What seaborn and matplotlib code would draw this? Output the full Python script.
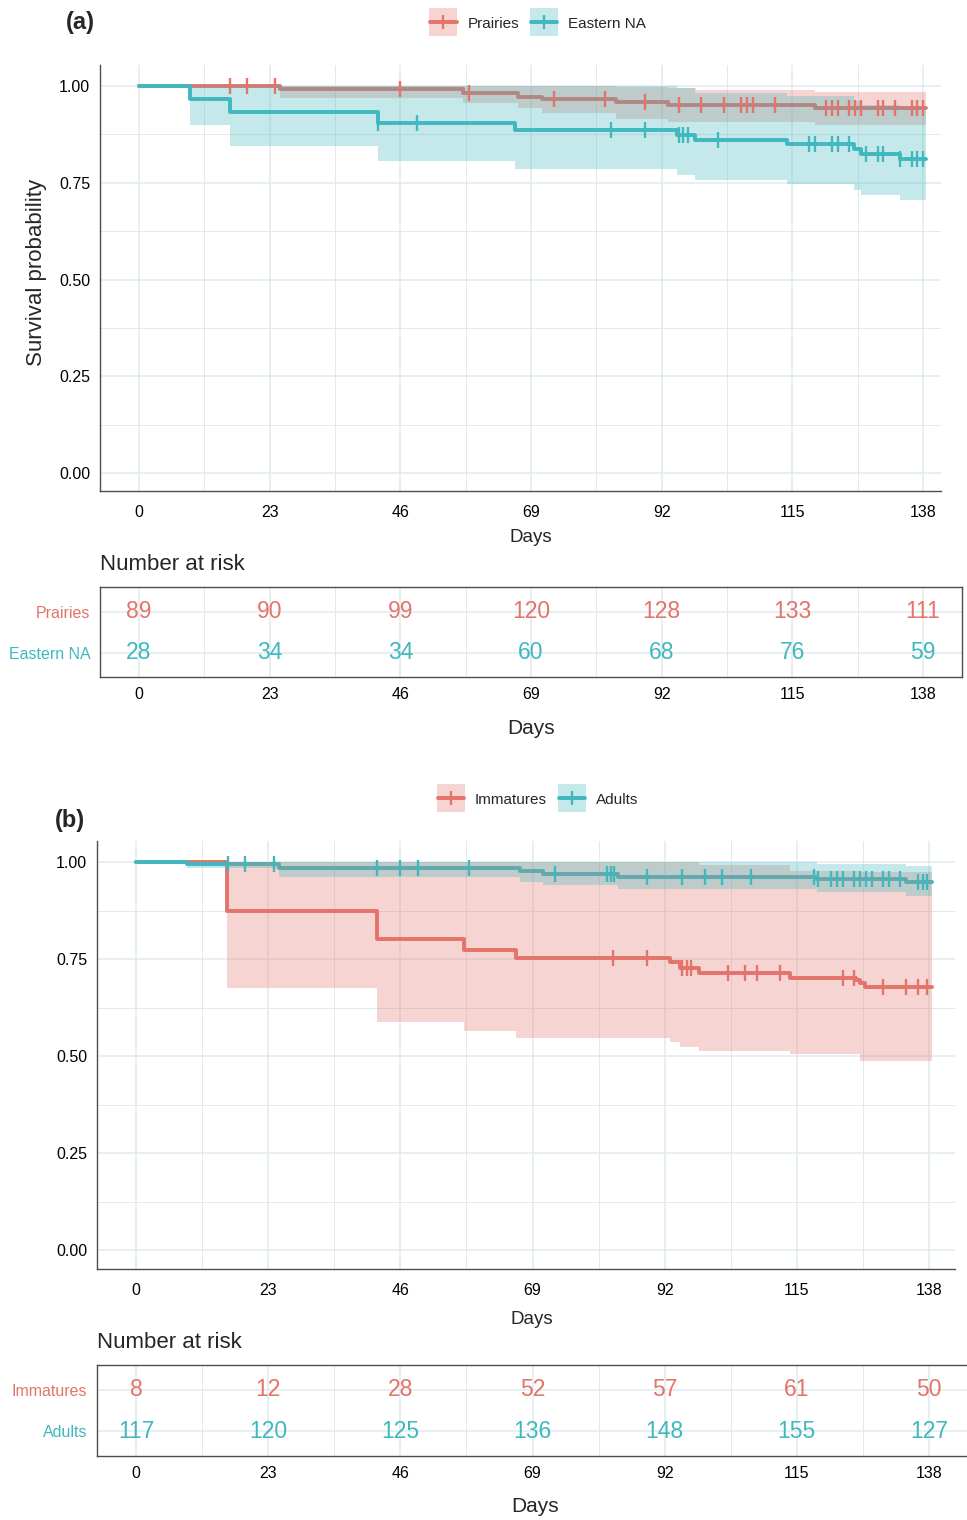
import matplotlib
import numpy as np

matplotlib.use("Agg")
import matplotlib.pyplot as plt
import seaborn as sns
from matplotlib.legend_handler import HandlerTuple
from matplotlib.lines import Line2D
from matplotlib.ticker import FixedLocator

DAY_TICKS = [0, 23, 46, 69, 92, 115, 138]
DAY_MINOR = [11.5, 34.5, 57.5, 80.5, 103.5, 126.5]
SURV_TICKS = [0.0, 0.25, 0.50, 0.75, 1.00]
SURV_MINOR = [0.125, 0.375, 0.625, 0.875]

# panel (a): region
PRAI_T = [0, 24.8, 57, 66.7, 71, 84, 93.2, 98, 119, 138.5]
PRAI_S = [1.0, 0.991, 0.981, 0.972, 0.967, 0.958, 0.951, 0.951, 0.944, 0.944]
PRAI_LO = [1.0, 0.968, 0.955, 0.942, 0.931, 0.915, 0.908, 0.908, 0.900, 0.900]
PRAI_HI = [1.0, 1.0, 1.0, 1.0, 1.0, 0.998, 0.995, 0.990, 0.984, 0.984]
PRAI_CENS = [16, 19, 24, 46, 58, 73, 82, 89, 95, 99, 103, 106, 107, 108, 112,
             121, 122, 123, 125, 126, 127, 130, 131, 133, 136, 137, 138]

EAST_T = [0, 9, 16, 42, 66.2, 94.7, 97.9, 114, 125.8, 127, 134, 138.5]
EAST_S = [1.0, 0.966, 0.934, 0.905, 0.886, 0.873, 0.860, 0.850, 0.836, 0.824, 0.811, 0.811]
EAST_LO = [1.0, 0.899, 0.845, 0.807, 0.785, 0.770, 0.757, 0.746, 0.732, 0.718, 0.705, 0.705]
EAST_HI = [1.0, 1.0, 1.0, 1.0, 1.0, 0.994, 0.981, 0.975, 0.960, 0.952, 0.945, 0.945]
EAST_CENS = [42, 49, 83, 89, 95, 95.8, 96.6, 102, 118, 119, 122, 123, 125, 128,
             130, 131, 134, 136, 137, 138]

PRAI_RISK = [89, 90, 99, 120, 128, 133, 111]
EAST_RISK = [28, 34, 34, 60, 68, 76, 59]

# panel (b): life stage
IMM_T = [0, 15.9, 42, 57, 66.1, 92.9, 94.7, 98, 113.8, 125.3, 126, 126.9, 138.5]
IMM_S = [1.0, 0.875, 0.801, 0.773, 0.753, 0.741, 0.728, 0.714, 0.702, 0.696, 0.687, 0.677, 0.677]
IMM_LO = [1.0, 0.674, 0.588, 0.565, 0.546, 0.535, 0.524, 0.513, 0.505, 0.505, 0.488, 0.488, 0.488]
IMM_HI = [1.0, 1.0, 1.0, 1.0, 1.0, 1.0, 1.0, 0.992, 0.976, 0.976, 0.975, 0.975, 0.975]
IMM_CENS = [83, 89, 95, 95.8, 96.6, 103, 106, 108, 112, 123, 125, 130, 134, 136, 137.6]

ADU_T = [0, 8.8, 24.8, 66.8, 70.9, 83.9, 118.5, 134, 138.5]
ADU_S = [1.0, 0.994, 0.985, 0.977, 0.968, 0.961, 0.955, 0.949, 0.949]
ADU_LO = [1.0, 0.984, 0.962, 0.949, 0.941, 0.930, 0.922, 0.913, 0.913]
ADU_HI = [1.0, 1.0, 1.0, 1.0, 1.0, 1.0, 0.995, 0.990, 0.990]
ADU_CENS = [16, 19, 24, 42, 46, 49, 58, 73, 82, 82.6, 83.2, 89, 95, 99, 102, 107,
            118, 118.7, 121, 122, 123, 125, 126, 127, 128, 130, 131, 133, 136, 137, 137.7]

IMM_RISK = [8, 12, 28, 52, 57, 61, 50]
ADU_RISK = [117, 120, 125, 136, 148, 155, 127]

RED = "#E4736A"
TEAL = "#3FB8BE"
GRID = "#E0EBEF"
AXC = "#4D4D4D"

sns.set_theme(style="white")
plt.rcParams["font.family"] = ["Liberation Sans", "DejaVu Sans"]

W, H = 967, 1520
fig = plt.figure(figsize=(W / 100, H / 100), dpi=100)


def px_axes(left, top, right, bottom):
    return fig.add_axes([left / W, 1 - bottom / H, (right - left) / W, (bottom - top) / H])


def day_lim(x0, x138, left, right):
    k = (x138 - x0) / 138
    return (left - x0) / k, (right - x0) / k


def base_style(ax):
    ax.set_xticks(DAY_TICKS)
    ax.xaxis.set_minor_locator(FixedLocator(DAY_MINOR))
    ax.grid(which="major", color=GRID, lw=1.1)
    ax.grid(which="minor", color=GRID, lw=0.7)
    ax.set_axisbelow(True)
    ax.tick_params(which="minor", length=0)
    ax.tick_params(which="major", length=3, width=0.9, color="#333333",
                   labelsize=11.5, labelcolor="black", pad=4)
    ax.set_xlabel("")
    ax.set_ylabel("")


def km_panel(ax, groups, xlim, ylim):
    for name, color, t, s, lo, hi, cens in groups:
        sns.lineplot(x=t, y=s, ax=ax, color=color, lw=2.8, drawstyle="steps-post",
                     estimator=None, sort=False, zorder=2)
    for name, color, t, s, lo, hi, cens in groups:
        ax.fill_between(t, lo, hi, step="post", color=color, alpha=0.3, lw=0, zorder=3)
    for name, color, t, s, lo, hi, cens in groups:
        idx = np.searchsorted(t, cens, side="right") - 1
        sns.scatterplot(x=cens, y=np.asarray(s)[idx], ax=ax, marker="|", s=130,
                        color=color, linewidth=1.7, zorder=4)
    base_style(ax)
    ax.set_yticks(SURV_TICKS)
    ax.set_yticklabels([f"{v:.2f}" for v in SURV_TICKS])
    ax.yaxis.set_minor_locator(FixedLocator(SURV_MINOR))
    ax.set_xlim(*xlim)
    ax.set_ylim(*ylim)
    ax.tick_params(axis="x", pad=7)
    for side in ["top", "right"]:
        ax.spines[side].set_visible(False)
    for side in ["left", "bottom"]:
        ax.spines[side].set_color(AXC)
        ax.spines[side].set_linewidth(1.0)


def risk_table(ax, rows, xlim):
    for i, (name, color, counts) in enumerate(rows):
        y = len(rows) - i
        for d, n in zip(DAY_TICKS, counts):
            ax.text(d, y, str(n), color=color, fontsize=16.5, ha="center", va="center")
    base_style(ax)
    ax.set_yticks([len(rows) - i for i in range(len(rows))])
    ax.set_yticklabels([r[0] for r in rows])
    for lbl, r in zip(ax.get_yticklabels(), rows):
        lbl.set_color(r[1])
    ax.set_xlim(*xlim)
    ax.set_ylim(0.41, 2.6)
    for side in ax.spines:
        ax.spines[side].set_color(AXC)
        ax.spines[side].set_linewidth(1.0)


def legend(rows, yc):
    handles = [(Line2D([], [], ls="none", marker="s", markersize=19.5, color=c,
                       alpha=0.3, mew=0),
                Line2D([], [], color=c, lw=2.8, marker="|", markersize=10, mew=1.7))
               for _, c in rows]
    fig.legend(handles, [r[0] for r in rows], loc="center",
               bbox_to_anchor=(538 / W, 1 - yc / H), ncol=2, frameon=False,
               fontsize=11, handlelength=1.75, handleheight=1.2,
               handletextpad=0.7, columnspacing=0.75, numpoints=1,
               handler_map={tuple: HandlerTuple(ndivide=1, pad=0)})


# ---- panel (a)
ax_a = px_axes(100, 65, 941, 491)
km_panel(ax_a,
         [("Prairies", RED, PRAI_T, PRAI_S, PRAI_LO, PRAI_HI, PRAI_CENS),
          ("Eastern NA", TEAL, EAST_T, EAST_S, EAST_LO, EAST_HI, EAST_CENS)],
         day_lim(139, 923, 100, 941), (-18 / 387, 1 + 21 / 387))
tab_a = px_axes(100, 587, 962, 677)
risk_table(tab_a, [("Prairies", RED, PRAI_RISK), ("Eastern NA", TEAL, EAST_RISK)],
           day_lim(139, 923, 100, 962))
legend([("Prairies", RED), ("Eastern NA", TEAL)], 23)
fig.text(80 / W, 1 - 22 / H, "(a)", fontsize=17, fontweight="bold", ha="center", va="center")
fig.text(37 / W, 1 - 272 / H, "Survival probability", fontsize=16, rotation=90,
         ha="center", va="center")
fig.text(531 / W, 1 - 538 / H, "Days", fontsize=13.5, ha="center", va="center")
fig.text(100 / W, 1 - 565 / H, "Number at risk", fontsize=16, ha="left", va="center")
fig.text(531 / W, 1 - 729 / H, "Days", fontsize=15, ha="center", va="center")

# ---- panel (b)
ax_b = px_axes(97, 841, 955, 1269)
km_panel(ax_b,
         [("Immatures", RED, IMM_T, IMM_S, IMM_LO, IMM_HI, IMM_CENS),
          ("Adults", TEAL, ADU_T, ADU_S, ADU_LO, ADU_HI, ADU_CENS)],
         day_lim(136, 929, 97, 955), (-19 / 388, 1 + 21 / 388))
tab_b = px_axes(97, 1365, 968, 1456)
risk_table(tab_b, [("Immatures", RED, IMM_RISK), ("Adults", TEAL, ADU_RISK)],
           day_lim(136, 929, 97, 968))
legend([("Immatures", RED), ("Adults", TEAL)], 799)
fig.text(70 / W, 1 - 820 / H, "(b)", fontsize=17, fontweight="bold", ha="center", va="center")
fig.text(532 / W, 1 - 1320 / H, "Days", fontsize=13.5, ha="center", va="center")
fig.text(97 / W, 1 - 1342 / H, "Number at risk", fontsize=16, ha="left", va="center")
fig.text(535 / W, 1 - 1507 / H, "Days", fontsize=15, ha="center", va="center")

fig.savefig("out.png", dpi=100)
